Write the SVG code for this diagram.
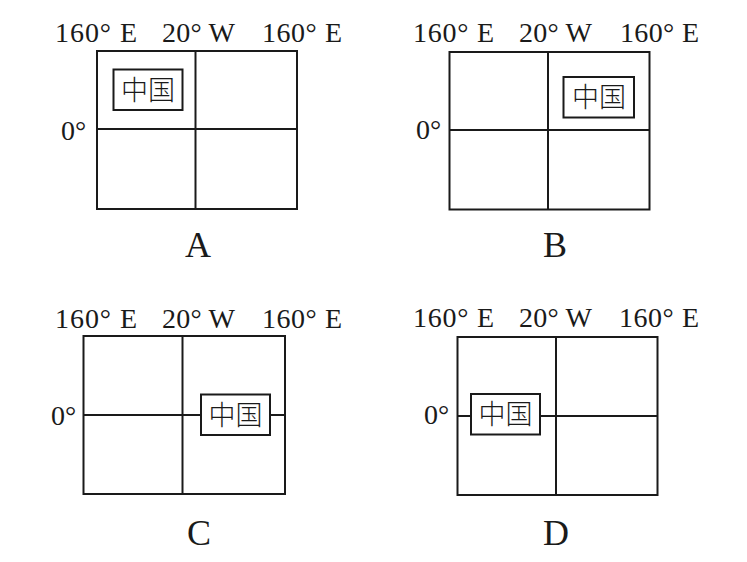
<svg xmlns="http://www.w3.org/2000/svg" width="747" height="562" viewBox="0 0 747 562">
<style>
.frame{fill:none;stroke:#1a1a1a;stroke-width:2}
.ln{stroke:#1a1a1a;stroke-width:2}
.cn{fill:#fff;stroke:#1a1a1a;stroke-width:2}
.lab{font-family:"Liberation Serif","Times New Roman",serif;font-size:28px;fill:#1a1a1a}
.big{font-family:"Liberation Serif","Times New Roman",serif;font-size:36px;fill:#1a1a1a;text-anchor:middle}
.zh{font-family:"Noto Sans CJK SC",sans-serif;font-size:27px;fill:#1a1a1a;text-anchor:middle;font-weight:300}
</style>
<rect width="747" height="562" fill="#fff"/>
<g id="panelA">
<text class="lab" x="55" y="42" textLength="82" lengthAdjust="spacing">160° E</text>
<text class="lab" x="162" y="42" textLength="73" lengthAdjust="spacing">20° W</text>
<text class="lab" x="262" y="42" textLength="80" lengthAdjust="spacing">160° E</text>
<text class="lab" x="61" y="140">0°</text>
<rect class="frame" x="97" y="51" width="200" height="158"/>
<line class="ln" x1="195.5" y1="51" x2="195.5" y2="209"/>
<line class="ln" x1="97" y1="129" x2="297" y2="129"/>
<rect class="cn" x="113.5" y="69.5" width="69" height="40.5"/>
<text class="zh" x="148" y="99.5">中国</text>
<text class="big" x="198" y="257">A</text>
</g>
<g id="panelB">
<text class="lab" x="413" y="42" textLength="81" lengthAdjust="spacing">160° E</text>
<text class="lab" x="519" y="42" textLength="73" lengthAdjust="spacing">20° W</text>
<text class="lab" x="620" y="42" textLength="79" lengthAdjust="spacing">160° E</text>
<text class="lab" x="416" y="139">0°</text>
<rect class="frame" x="449.5" y="52" width="200" height="157.5"/>
<line class="ln" x1="548" y1="52" x2="548" y2="209.5"/>
<line class="ln" x1="449.5" y1="130" x2="649.5" y2="130"/>
<rect class="cn" x="563.5" y="77" width="70.5" height="40.5"/>
<text class="zh" x="599" y="107">中国</text>
<text class="big" x="555" y="257">B</text>
</g>
<g id="panelC">
<text class="lab" x="55" y="328" textLength="82" lengthAdjust="spacing">160° E</text>
<text class="lab" x="162" y="328" textLength="73" lengthAdjust="spacing">20° W</text>
<text class="lab" x="262" y="328" textLength="80" lengthAdjust="spacing">160° E</text>
<text class="lab" x="51" y="425">0°</text>
<rect class="frame" x="83.5" y="336" width="201.5" height="158"/>
<line class="ln" x1="182.5" y1="336" x2="182.5" y2="494"/>
<line class="ln" x1="83.5" y1="415" x2="285" y2="415"/>
<rect class="cn" x="201" y="394.5" width="69" height="40.5"/>
<text class="zh" x="235.5" y="424.5">中国</text>
<text class="big" x="199" y="545">C</text>
</g>
<g id="panelD">
<text class="lab" x="413" y="327" textLength="81" lengthAdjust="spacing">160° E</text>
<text class="lab" x="519" y="327" textLength="73" lengthAdjust="spacing">20° W</text>
<text class="lab" x="619" y="327" textLength="80" lengthAdjust="spacing">160° E</text>
<text class="lab" x="424" y="424">0°</text>
<rect class="frame" x="457.5" y="337" width="200" height="158"/>
<line class="ln" x1="556" y1="337" x2="556" y2="495"/>
<line class="ln" x1="457.5" y1="416" x2="657.5" y2="416"/>
<rect class="cn" x="471" y="394" width="69" height="40.5"/>
<text class="zh" x="505.5" y="424">中国</text>
<text class="big" x="556" y="545">D</text>
</g>
</svg>
